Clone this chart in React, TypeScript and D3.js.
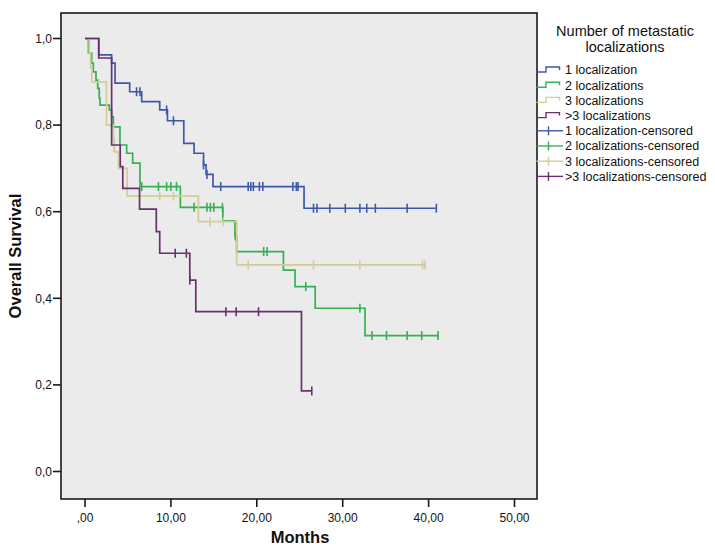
import React from 'react';
import * as d3 from 'd3';

const W = 715;
const H = 548;
const frame = { left: 61, right: 537, top: 13, bottom: 499 };

const groupNames = ['1 localization', '2 localizations', '3 localizations', '>3 localizations'];
const groupColors = ['#3e58ac', '#35b052', '#d2cc98', '#6a2f70'];

// [months, survival after the event]
const steps1: [number, number][] = [
  [0, 1], [1.6, 0.962], [3.1, 0.943], [3.5, 0.897], [5.2, 0.877], [6.6, 0.854], [8.7, 0.835],
  [9.6, 0.81], [11.5, 0.758], [12.7, 0.735], [13.8, 0.708], [14.1, 0.686], [14.9, 0.658], [25.5, 0.608],
];
const censor1 = [6.0, 6.4, 9.5, 10.3, 13.8, 14.2, 15.8, 19.0, 19.3, 19.6, 20.3, 20.7, 24.2, 24.6, 24.8,
  26.6, 27.0, 28.5, 30.3, 32.0, 32.8, 33.8, 37.5, 40.9];

const steps2: [number, number][] = [
  [0, 1], [0.4, 0.966], [0.78, 0.943], [0.97, 0.923], [1.28, 0.904], [1.48, 0.885], [1.66, 0.862],
  [1.75, 0.846], [2.83, 0.835], [3.1, 0.819], [3.3, 0.796], [4.07, 0.754], [4.85, 0.735], [5.55, 0.712],
  [6.4, 0.658], [11.1, 0.61], [16.05, 0.579], [17.46, 0.544], [17.65, 0.508], [23.1, 0.465],
  [24.45, 0.427], [26.8, 0.377], [32.6, 0.314],
];
const censor2 = [6.6, 8.55, 9.5, 10.0, 10.65, 12.7, 14.2, 14.6, 15.0, 16.0, 17.5, 20.8, 21.2, 25.7, 32.0,
  33.4, 35.1, 37.5, 39.2, 41.1];

const steps3: [number, number][] = [
  [0, 1], [0.5, 0.967], [0.65, 0.933], [0.8, 0.9], [2.5, 0.8], [3.3, 0.767], [3.4, 0.738], [3.9, 0.7],
  [4.9, 0.636], [13.2, 0.577], [17.66, 0.477],
];
const censor3 = [8.7, 10.3, 14.55, 16.1, 19.0, 26.6, 32.0, 39.3, 39.6];

const steps4: [number, number][] = [
  [0, 1], [1.6, 0.955], [3.1, 0.754], [4.1, 0.704], [4.4, 0.654], [6.35, 0.606], [8.3, 0.554],
  [8.7, 0.504], [12.2, 0.442], [12.9, 0.369], [25.2, 0.186],
];
const censor4 = [10.5, 11.8, 12.2, 16.4, 17.6, 20.2, 26.4];

const allSteps = [steps1, steps2, steps3, steps4];
const allCensors = [censor1, censor2, censor3, censor4];

const xTicks = [0, 10, 20, 30, 40, 50];
const xTickLabels = [',00', '10,00', '20,00', '30,00', '40,00', '50,00'];
const yTicks = [0, 0.2, 0.4, 0.6, 0.8, 1.0];
const yTickLabels = ['0,0', '0,2', '0,4', '0,6', '0,8', '1,0'];

const x = d3.scaleLinear().domain([0, 50]).range([85, 514.5]);
const y = d3.scaleLinear().domain([0, 1]).range([471.5, 38.5]);

const survAt = (steps: [number, number][], t: number) => {
  let s = 1;
  for (const [tt, v] of steps) if (tt <= t) s = v;
  return s;
};

const line = d3
  .line<[number, number]>()
  .x((d) => x(d[0]))
  .y((d) => y(d[1]))
  .curve(d3.curveStepAfter);

const font = '"Liberation Sans", Arial, sans-serif';

export default function App() {
  return (
    <svg
      width={W}
      height={H}
      style={{ position: 'absolute', left: 0, top: 0, background: '#fff' }}
      fontFamily={font}
    >
      <rect
        x={frame.left}
        y={frame.top}
        width={frame.right - frame.left}
        height={frame.bottom - frame.top}
        fill="#ebebeb"
      />
      {allSteps.map((steps, i) => {
        const cens = allCensors[i];
        const end = Math.max(steps[steps.length - 1][0], cens[cens.length - 1]);
        const pts: [number, number][] = [...steps, [end, steps[steps.length - 1][1]]];
        return (
          <g key={i}>
            <path d={line(pts) || ''} fill="none" stroke={groupColors[i]} strokeWidth={1.7} />
            {cens.map((t, j) => (
              <line
                key={j}
                x1={x(t)}
                x2={x(t)}
                y1={y(survAt(steps, t)) - 4.5}
                y2={y(survAt(steps, t)) + 4.5}
                stroke={groupColors[i]}
                strokeWidth={1.6}
              />
            ))}
          </g>
        );
      })}
      <rect
        x={frame.left}
        y={frame.top}
        width={frame.right - frame.left}
        height={frame.bottom - frame.top}
        fill="none"
        stroke="#1a1a1a"
        strokeWidth={1.6}
      />
      {yTicks.map((t, i) => (
        <g key={t}>
          <line x1={frame.left - 8} x2={frame.left} y1={y(t)} y2={y(t)} stroke="#1a1a1a" strokeWidth={1.6} />
          <text x={frame.left - 9} y={y(t)} dy="0.35em" textAnchor="end" fontSize={12} fill="#111">
            {yTickLabels[i]}
          </text>
        </g>
      ))}
      {xTicks.map((t, i) => (
        <g key={t}>
          <line x1={x(t)} x2={x(t)} y1={frame.bottom} y2={frame.bottom + 8} stroke="#1a1a1a" strokeWidth={1.6} />
          <text x={x(t)} y={521.5} textAnchor="middle" fontSize={12} fill="#111">
            {xTickLabels[i]}
          </text>
        </g>
      ))}
      <text x={300} y={543} textAnchor="middle" fontSize={16.5} fontWeight="bold" fill="#111">
        Months
      </text>
      <text
        transform={`translate(21, ${(frame.top + frame.bottom) / 2}) rotate(-90)`}
        textAnchor="middle"
        fontSize={16.5}
        fontWeight="bold"
        fill="#111"
      >
        Overall Survival
      </text>

      <g>
        <text x={625} y={36} textAnchor="middle" fontSize={14.5} fill="#111">
          Number of metastatic
        </text>
        <text x={625} y={51.5} textAnchor="middle" fontSize={14.5} fill="#111">
          localizations
        </text>
        {groupNames.map((name, i) => {
          const yy = 70 + i * 15.2;
          return (
            <g key={name}>
              <path
                d={`M536.5,${yy + 2}H546V${yy - 3}H559.5V${yy}`}
                fill="none"
                stroke={groupColors[i]}
                strokeWidth={1.4}
              />
              <text x={565} y={yy} dy="0.35em" fontSize={12.5} fill="#111">
                {name}
              </text>
            </g>
          );
        })}
        {groupNames.map((name, i) => {
          const yy = 70 + (i + 4) * 15.2;
          return (
            <g key={name + '-c'}>
              <line x1={536.5} x2={563} y1={yy} y2={yy} stroke={groupColors[i]} strokeWidth={1.4} />
              <line x1={548.5} x2={548.5} y1={yy - 4.5} y2={yy + 4.5} stroke={groupColors[i]} strokeWidth={1.4} />
              <text x={565} y={yy} dy="0.35em" fontSize={12.5} fill="#111">
                {name}-censored
              </text>
            </g>
          );
        })}
      </g>
    </svg>
  );
}
